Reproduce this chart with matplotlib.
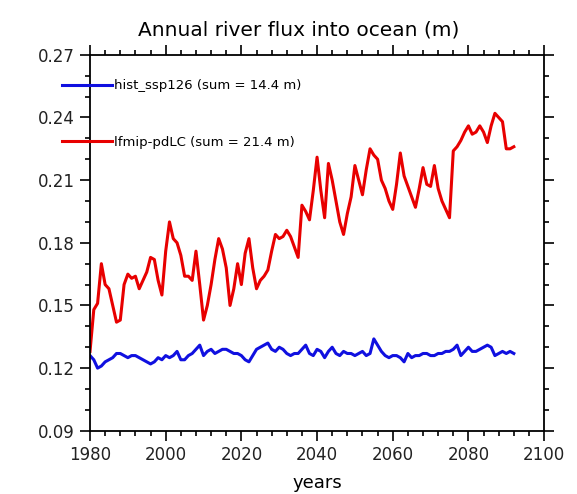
import numpy as np
import matplotlib
matplotlib.use("Agg")
import matplotlib.pyplot as plt
from matplotlib.ticker import MultipleLocator, FormatStrFormatter

# annual values, 1980..2092
years = np.arange(1980, 2093)

hist_ssp126 = [
    0.126, 0.124, 0.120, 0.121, 0.123, 0.124, 0.125, 0.127, 0.127, 0.126,
    0.125, 0.126, 0.126, 0.125, 0.124, 0.123, 0.122, 0.123, 0.125, 0.124,
    0.126, 0.125, 0.126, 0.128, 0.124, 0.124, 0.126, 0.127, 0.129, 0.131,
    0.126, 0.128, 0.129, 0.127, 0.128, 0.129, 0.129, 0.128, 0.127, 0.127,
    0.126, 0.124, 0.123, 0.126, 0.129, 0.130, 0.131, 0.132, 0.129, 0.128,
    0.130, 0.129, 0.127, 0.126, 0.127, 0.127, 0.129, 0.131, 0.127, 0.126,
    0.129, 0.128, 0.125, 0.128, 0.130, 0.127, 0.126, 0.128, 0.127, 0.127,
    0.126, 0.127, 0.128, 0.126, 0.127, 0.134, 0.131, 0.128, 0.126, 0.125,
    0.126, 0.126, 0.125, 0.123, 0.127, 0.125, 0.126, 0.126, 0.127, 0.127,
    0.126, 0.126, 0.127, 0.127, 0.128, 0.128, 0.129, 0.131, 0.126, 0.128,
    0.130, 0.128, 0.128, 0.129, 0.130, 0.131, 0.130, 0.126, 0.127, 0.128,
    0.127, 0.128, 0.127,
]

lfmip_pdLC = [
    0.128, 0.148, 0.151, 0.170, 0.160, 0.158, 0.150, 0.142, 0.143, 0.160,
    0.165, 0.163, 0.164, 0.158, 0.162, 0.166, 0.173, 0.172, 0.162, 0.155,
    0.176, 0.190, 0.182, 0.180, 0.174, 0.164, 0.164, 0.162, 0.176, 0.160,
    0.143, 0.150, 0.160, 0.172, 0.182, 0.177, 0.168, 0.150, 0.158, 0.170,
    0.160, 0.175, 0.182, 0.168, 0.158, 0.162, 0.164, 0.167, 0.176, 0.184,
    0.182, 0.183, 0.186, 0.183, 0.178, 0.173, 0.198, 0.195, 0.191, 0.205,
    0.221, 0.205, 0.192, 0.218, 0.210, 0.200, 0.190, 0.184, 0.194, 0.202,
    0.217, 0.210, 0.203, 0.215, 0.225, 0.222, 0.220, 0.210, 0.206, 0.200,
    0.196, 0.208, 0.223, 0.212, 0.207, 0.202, 0.197, 0.206, 0.216, 0.208,
    0.207, 0.217, 0.206, 0.200, 0.196, 0.192, 0.224, 0.226, 0.229, 0.233,
    0.236, 0.232, 0.233, 0.236, 0.233, 0.228, 0.236, 0.242, 0.240, 0.238,
    0.225, 0.225, 0.226,
]

labels = ["hist_ssp126 (sum = 14.4 m)", "lfmip-pdLC (sum = 21.4 m)"]
colors = ["#1010e0", "#e80000"]

fig = plt.figure(figsize=(5.77, 4.94), dpi=100)
ax = fig.add_axes([0.156, 0.128, 0.787, 0.761])

ax.plot(years, hist_ssp126, color=colors[0], lw=2.2, label=labels[0])
ax.plot(years, lfmip_pdLC, color=colors[1], lw=2.2, label=labels[1])

ax.set_xlim(1980, 2100)
ax.set_ylim(0.09, 0.27)
ax.xaxis.set_major_locator(MultipleLocator(20))
ax.xaxis.set_minor_locator(MultipleLocator(4))
ax.yaxis.set_major_locator(MultipleLocator(0.03))
ax.yaxis.set_minor_locator(MultipleLocator(0.01))
ax.yaxis.set_major_formatter(FormatStrFormatter("%.2f"))

ax.tick_params(which="both", direction="out", top=True, right=True,
               labelsize=12, width=1.2, pad=4, labelcolor="#222222")
ax.tick_params(which="major", length=7)
ax.tick_params(which="minor", length=3.5)
for s in ax.spines.values():
    s.set_linewidth(1.3)

ax.set_title("Annual river flux into ocean (m)", fontsize=14.5, pad=14,
             x=0.46)
ax.set_xlabel("years", fontsize=13, labelpad=7)

ax.legend(loc="upper left", bbox_to_anchor=(-0.062, 0.935), frameon=False,
          fontsize=9.5, handlelength=3.8, handletextpad=0.15,
          labelspacing=3.3, borderpad=0, borderaxespad=0)

fig.savefig("out.png", dpi=100)
